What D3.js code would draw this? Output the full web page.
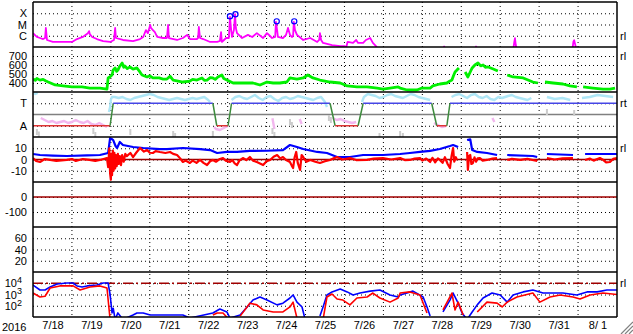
<!DOCTYPE html>
<html>
<head>
<meta charset="utf-8">
<script src="https://cdn.jsdelivr.net/npm/d3@7"></script>
<style>
  body { margin: 0; background: #fff; }
  svg text { font-family: "Liberation Sans", Arial, sans-serif; font-size: 11px; fill: #000; }
</style>
</head>
<body>
<div id="chart"></div>
<script>
// time is given in days since 2016-07-18 00:00 UT
const xray = [[0.00,1.7e-6],[0.10,7.8e-7],[0.18,6.3e-7],[0.26,5.1e-7],[0.31,6.3e-7],[0.33,4.9e-6],[0.36,4.2e-7],[0.51,2.8e-7],[0.77,2.8e-7],[1.00,2.8e-7],[1.13,5.1e-7],[1.28,7.8e-7],[1.41,1.7e-6],[1.44,2.6e-6],[1.46,1.4e-6],[1.52,7.8e-7],[1.64,5.1e-7],[1.80,3.4e-7],[1.98,2.8e-7],[2.08,4.2e-7],[2.11,4.9e-6],[2.13,6.3e-7],[2.31,4.2e-7],[2.57,3.4e-7],[2.75,5.1e-7],[2.83,7.8e-7],[2.90,3.2e-6],[2.95,1.7e-6],[3.01,9.1e-6],[3.03,4.9e-6],[3.08,3.2e-6],[3.13,2.1e-6],[3.19,7.8e-7],[3.34,6.3e-7],[3.44,6.3e-7],[3.47,9.1e-6],[3.49,6.3e-7],[3.70,4.2e-7],[3.85,6.3e-7],[3.96,1.2e-6],[4.03,5.1e-7],[4.21,5.1e-7],[4.24,6.3e-7],[4.26,6.0e-6],[4.29,6.3e-7],[4.37,5.1e-7],[4.55,2.8e-7],[4.73,2.8e-7],[4.80,3.4e-7],[4.83,2.1e-6],[4.85,2.8e-7],[4.96,6.3e-7],[5.03,6.3e-7],[5.06,4.7e-5],[5.09,3.2e-6],[5.11,7.8e-7],[5.16,3.2e-6],[5.19,8.5e-5],[5.21,4.9e-6],[5.24,1.7e-6],[5.37,6.3e-7],[5.52,1.2e-6],[5.63,7.8e-7],[5.75,1.7e-6],[5.91,6.3e-7],[6.01,1.7e-6],[6.09,9.5e-7],[6.14,6.3e-7],[6.22,7.8e-7],[6.24,1.7e-5],[6.27,3.2e-6],[6.29,7.8e-7],[6.42,6.3e-7],[6.50,1.2e-6],[6.55,4.9e-6],[6.60,1.2e-6],[6.65,7.8e-7],[6.68,9.5e-7],[6.70,1.7e-5],[6.73,3.2e-6],[6.78,1.2e-6],[6.94,4.2e-7],[7.12,6.3e-7],[7.30,2.8e-7],[7.35,4.2e-7],[7.37,1.7e-6],[7.40,4.2e-7],[7.45,2.3e-7],[7.68,1.5e-7],[7.89,1.2e-7],[8.01,1.2e-7],[8.04,8e-8],[8.08,2.8e-7],[8.22,2.3e-7],[8.30,4.2e-7],[8.35,2.3e-7],[8.48,2.3e-7],[8.55,4.2e-7],[8.66,6.3e-7],[8.73,2.3e-7],[8.81,1.2e-7],[8.84,8e-8],
  null,[10.54,8e-8],[10.56,1.1e-7],[10.58,8e-8],
  null,[11.36,8e-8],[11.38,1.1e-7],[11.40,8e-8],
  null,[12.34,8e-8],[12.36,2.5e-7],[12.38,6e-7],[12.40,1.5e-7],[12.42,8e-8],
  null,[13.86,8e-8],[13.88,3e-7],[13.90,4e-7],[13.92,2e-7],[13.95,8e-8]]
const flares = [[5.06,5.4e-5],[5.20,8.1e-5],[6.26,1.9e-5],[6.71,1.9e-5]]

const speed = [[0.00,444],[0.06,430],[0.10,450],[0.18,432],[0.26,440],[0.32,425],[0.39,411],[0.57,378],[0.77,367],[1.00,356],[1.26,356],[1.46,344],[1.72,344],[1.90,333],[1.93,456],[1.98,470],[2.03,489],[2.06,544],[2.11,567],[2.15,530],[2.18,544],[2.22,580],[2.29,622],[2.33,575],[2.36,589],[2.42,560],[2.49,578],[2.57,555],[2.67,567],[2.75,520],[2.80,489],[2.93,467],[3.00,480],[3.08,456],[3.24,456],[3.34,444],[3.44,444],[3.52,475],[3.60,433],[3.85,411],[4.03,422],[4.10,440],[4.21,433],[4.34,456],[4.40,430],[4.47,433],[4.55,460],[4.62,456],[4.68,440],[4.75,467],[4.85,489],[4.90,450],[4.98,433],[5.14,400],[5.39,400],[5.65,400],[5.83,378],[5.95,400],[6.01,411],[6.17,400],[6.34,400],[6.52,411],[6.60,456],[6.78,444],[6.94,456],[7.06,489],[7.19,456],[7.37,433],[7.63,411],[7.89,400],[8.07,367],[8.32,356],[8.58,356],[8.84,344],[8.99,333],[9.17,344],[9.38,356],[9.43,344],[9.61,322],[9.86,322],[9.99,344],[10.20,344],[10.27,367],[10.45,389],[10.63,400],[10.70,420],[10.76,433],[10.80,480],[10.84,522],[10.89,544],[10.94,567],
  null,[11.10,522],[11.17,467],[11.23,522],[11.28,567],[11.35,600],[11.43,622],[11.50,590],[11.56,600],[11.62,575],[11.69,578],[11.82,556],[11.94,533],
  null,[12.18,489],[12.33,467],[12.59,456],[12.84,411],[12.97,400],
  null,[13.15,411],[13.36,400],[13.61,389],[13.79,367],[13.97,356],
  null,[14.13,356],[14.38,344],[14.64,333],[14.82,333],[14.95,344]]

// IMF sector: 270 = toward, 90 = away
const sector = [[0,90],[1.98,90],[2.06,270],[4.62,270],[4.72,90],[5.01,90],[5.10,270],[7.63,270],[7.76,90],[8.35,90],[8.48,270],[10.24,270],[10.37,90],[10.63,90],[10.71,270],[15,270]]
const phiToward = [[0.02,350],[0.06,344],[0.12,352],null,[1.95,200],[1.98,240],[2.00,300],[2.03,320],[2.10,320],[2.20,312],[2.30,320],[2.40,304],[2.50,296],[2.60,312],[2.70,320],[2.80,328],[2.90,336],[3.00,344],[3.10,336],[3.20,320],[3.30,312],[3.40,304],[3.50,296],[3.60,304],[3.70,312],[3.80,304],[3.90,296],[4.00,304],[4.10,312],[4.20,304],[4.30,312],[4.40,320],[4.50,296],[4.55,280],
  null,[5.10,296],[5.20,320],[5.30,328],[5.40,312],[5.50,304],[5.60,320],[5.70,336],[5.80,312],[5.90,296],[6.00,320],[6.10,328],[6.20,304],[6.30,288],[6.40,312],[6.50,320],[6.60,304],[6.70,312],[6.80,328],[6.90,320],[7.00,312],[7.10,304],[7.20,296],[7.30,312],[7.40,320],[7.50,280],[7.55,240],
  null,[8.45,280],[8.50,320],[8.60,344],[8.70,336],[8.80,328],[8.90,312],[9.00,320],[9.10,336],[9.20,344],[9.30,328],[9.40,320],[9.50,312],[9.60,328],[9.70,344],[9.80,336],[9.90,320],[10.00,312],[10.10,304],[10.20,296],
  null,[10.75,320],[10.85,336],[10.95,344],[11.05,328],[11.15,312],[11.25,336],[11.35,344],[11.45,320],[11.55,312],[11.65,328],[11.75,304],[11.85,296],[11.95,320],[12.05,312],[12.20,328],[12.30,336],[12.40,320],[12.50,312],[12.60,304],[12.70,296],[12.80,312],
  null,[13.20,320],[13.40,304],[13.60,312],[13.80,296],
  null,[14.10,312],[14.30,320],[14.50,336],[14.70,328],[14.90,320]]
const phiAway = [[0.20,152],[0.30,136],[0.40,120],[0.50,128],[0.60,112],[0.70,120],[0.80,128],[0.90,112],[1.00,120],[1.10,136],[1.20,120],[1.30,112],[1.40,128],[1.50,104],[1.60,96],[1.70,112],[1.80,96],[1.90,80],
  null,[4.65,80],[4.70,64],[4.80,56],[4.90,72],[5.00,88],
  null,[6.15,150],[6.20,64],null,[6.85,144],[6.90,104],
  null,[7.70,152],[7.80,136],[7.90,144],[8.00,128],[8.10,120],[8.20,112],[8.30,120],
  null,[10.30,112],[10.40,96],[10.50,80],[10.60,88],null,[11.80,152],[11.85,120]]
const phiOther = [[0.10,40],[0.15,20],[1.55,48],[1.60,16],[2.50,40],[3.60,24],[3.65,8],[4.62,24],[6.15,48],[6.20,16],[6.60,120],[6.65,96],[7.60,152],[7.65,136],[8.90,8],[9.43,24],[9.50,8],[13.20,200],[13.90,192]]

const bt = [[0,4.9],[0.18,4.0],[0.51,3.5],[0.87,3.1],[1.39,3.7],[1.72,4.0],[1.93,5.8],[1.98,19],[2.03,18],[2.06,17.3],[2.12,12],[2.16,10.2],[2.23,15.6],[2.31,12.9],[2.57,11.1],[2.83,10.2],[3.26,9.3],[3.44,9.3],[3.85,10.2],[4.29,9.3],[4.55,8.4],[4.73,5.8],[4.98,6.7],[5.24,6.7],[5.57,7.6],[6.01,7.8],[6.42,8.4],[6.60,12.9],[6.78,11.1],[6.94,9.3],[7.30,6.7],[7.55,5.8],[7.81,2.2],[8.14,2.2],[8.48,4.0],[8.99,4.0],[9.43,4.9],[9.68,5.8],[9.94,6.7],[10.20,7.6],[10.45,9.3],[10.71,12.0],[10.79,12.9],[10.92,11.1],
  null,[11.15,17.3],[11.23,18],[11.28,8.4],[11.41,6.7],[11.66,5.8],[11.92,4.0],
  null,[12.18,4.0],[12.84,3.1],[12.95,2.2],
  null,[13.20,4.9],[13.87,4.0],
  null,[14.18,4.9],[15.0,4.9]]
const bz = [[0.00,1.3],[0.08,-1.3],[0.18,-2.2],[0.30,0.4],[0.44,-0.4],[0.60,-1.3],[0.87,-0.4],[1.00,0.4],[1.10,-1.3],[1.28,0.4],[1.45,-0.4],[1.60,-1.3],[1.72,-0.4],[1.90,1.3],[1.93,-6.7],[1.96,10],[1.98,-12],[2.00,-18],[2.01,5],[2.03,-14],[2.05,8],[2.07,-10],[2.09,6],[2.11,-8],[2.13,4],[2.15,-6],[2.18,5],[2.20,-4],[2.23,3],[2.26,-5],[2.29,4],[2.33,-2],[2.37,5],[2.41,3],[2.50,5.8],[2.57,2.2],[2.65,6],[2.75,10.2],[2.85,7],[2.93,8.4],[3.00,6],[3.08,5.8],[3.15,7.5],[3.26,6.7],[3.40,5.8],[3.52,6.7],[3.60,5],[3.70,4.0],[3.78,1],[3.85,-2.2],[3.92,-1],[4.03,-3.1],[4.10,-1],[4.20,-3],[4.29,-0.4],[4.38,-3],[4.47,-4.9],[4.55,-1.5],[4.62,-0.4],[4.70,-2],[4.80,0.5],[4.88,1.3],[4.95,-1],[5.06,-2.2],[5.12,-0.5],[5.18,-3.5],[5.24,-4.9],[5.30,-1],[5.39,1.3],[5.48,-0.5],[5.57,2.2],[5.65,-1],[5.75,-2.2],[5.83,-3.5],[5.91,-4.9],[6.00,-1.5],[6.09,-0.4],[6.18,2.5],[6.27,4.0],[6.35,1],[6.42,2.2],[6.50,-0.5],[6.60,-2.2],[6.64,-5],[6.68,-7.6],[6.72,2],[6.76,6.7],[6.80,-3],[6.86,-9.3],[6.90,4],[6.94,2.2],[7.02,-2],[7.12,-0.4],[7.25,-2],[7.37,-3.1],[7.50,-1.5],[7.63,-0.4],[7.72,1],[7.81,2.2],[7.95,0],[8.14,1.3],[8.30,-0.5],[8.58,-0.4],[8.75,0.8],[8.99,1.3],[9.20,0],[9.43,1.3],[9.55,-0.5],[9.68,-0.4],[9.80,0.8],[9.94,1.3],[10.00,-1],[10.10,0.8],[10.20,-2.2],[10.26,1.5],[10.33,-2.5],[10.40,1],[10.45,-0.4],[10.52,-3],[10.58,2],[10.65,-4],[10.71,-7.6],[10.75,3],[10.79,10.2],[10.82,-2],[10.86,2],[10.89,-0.4],
  null,[11.15,6.7],[11.17,-9.3],[11.20,3],[11.23,4.0],[11.26,-4],[11.30,-3.1],[11.34,2],[11.38,-2],[11.42,1],[11.48,1.3],[11.55,-1],[11.66,-0.4],[11.80,0.8],[11.92,1.3],
  null,[12.18,-0.4],[12.30,0.5],[12.51,-0.4],[12.70,0.5],[12.95,-1.3],
  null,[13.20,1.3],[13.40,0],[13.60,1],[13.87,1.3],
  null,[14.18,-0.4],[14.30,0.8],[14.40,-1],[14.56,1.3],[14.65,-0.5],[14.72,-2.5],[14.82,-2.2],[14.90,0.5],[15.0,1.3]]

const electronLow = [[0.00,6900],[0.18,2500],[0.31,2500],[0.44,4700],[0.62,8500],[0.87,10500],[1.03,10500],[1.13,5800],[1.26,4700],[1.39,5800],[1.64,6900],[1.80,10500],[1.93,10500],[1.98,1000],[2.03,23],[2.06,60],[2.11,6],[2.18,23],[2.31,6],[2.57,15],[2.67,23],[2.83,23],[3.01,15],[3.44,15],[3.85,15],[4.03,8],[4.62,23],[4.80,51],[4.98,28],[5.06,8],[5.32,15],[5.50,78],[5.65,320],[5.83,600],[6.01,320],[6.27,120],[6.42,170],[6.60,490],[6.68,910],[6.78,210],[6.91,78],[6.99,6],
  null,[7.37,12],[7.45,78],[7.55,910],[7.68,1700],[7.89,3100],[8.07,1700],[8.22,910],[8.40,1350],[8.66,2000],[8.91,2500],[9.17,910],[9.38,600],[9.43,910],[9.76,2000],[10.02,600],[10.12,78],[10.20,12],
  null,[10.53,28],[10.71,320],[10.79,1350],[10.92,170],[11.02,23],[11.15,6],[11.28,28],[11.41,120],[11.56,490],[11.79,1350],[12.00,910],[12.18,210],[12.33,910],[12.59,1700],[12.84,2500],[13.10,1350],[13.36,1350],[13.61,1350],[13.97,910],[14.23,1700],[14.49,1700],[14.74,2500],[15.0,2500]]
const electronHigh = [[0.00,1350],[0.18,600],[0.31,700],[0.44,3800],[0.69,5800],[1.03,5800],[1.21,2500],[1.46,4700],[1.72,5800],[1.90,3800],[1.98,6],
  null,[4.62,15],[4.73,23],[4.88,23],[5.00,8],
  null,[5.32,12],[5.57,170],[5.75,120],[5.91,42],[6.17,28],[6.42,28],[6.60,78],[6.68,210],[6.78,8],
  null,[7.45,6],[7.55,600],[7.68,1100],[7.81,400],[7.96,320],[8.14,120],[8.32,490],[8.58,600],[8.73,1350],[8.91,490],[9.17,210],[9.38,490],[9.43,1350],[9.68,1700],[9.94,910],[10.12,23],
  null,[10.53,42],[10.76,1350],[10.84,42],[10.92,210],[11.05,15],
  null,[11.41,28],[11.66,210],[11.92,170],[12.05,78],[12.18,210],[12.43,600],[12.84,1350],[13.02,210],[13.28,600],[13.54,910],[13.87,600],[14.05,400],[14.31,910],[14.64,1350],[15.0,1000]]

const W = 633, H = 334
const marginLeft = 33, marginRight = 16
const plotTop = 2, panelH = 45
const gridColor = '#000'

const t0 = Date.UTC(2016, 6, 18)
const day = t => new Date(t0 + t * 864e5)

const svg = d3.select('#chart').append('svg')
  .attr('width', W).attr('height', H)

const x = d3.scaleUtc()
  .domain([day(0), day(15)])
  .range([marginLeft, W - marginRight])
const width = W - marginLeft - marginRight

const panelTop = i => plotTop + i * panelH
const panels = [
  { y: d3.scaleLog().domain([1e-7, 1e-3]), ticks: [1e-4, 1e-5, 1e-6], fmt: d => ({1e-4: 'X', 1e-5: 'M', 1e-6: 'C'})[d], tag: 'rl' },
  { y: d3.scaleLinear().domain([300, 800]), ticks: [400, 500, 600, 700], fmt: d => d, tag: 'rl' },
  { y: d3.scaleLinear().domain([0, 360]), ticks: [90, 270], fmt: d => d === 270 ? 'T' : 'A', tag: 'rt' },
  { y: d3.scaleLinear().domain([-20, 20]), ticks: [-10, 0, 10], fmt: d => d === -10 ? '-10' : d, tag: 'rl' },
  { y: d3.scaleLinear().domain([-200, 100]), ticks: [-100, 0], fmt: d => d === -100 ? '-100' : d },
  { y: d3.scaleLinear().domain([0, 80]), ticks: [20, 40, 60], fmt: d => d },
  { y: d3.scaleLog().domain([10, 1e5]), ticks: [1e2, 1e3, 1e4], fmt: d => '10', tag: 'rl' },
]
panels.forEach((p, i) => p.y.range([panelTop(i + 1), panelTop(i)]))

// clip paths, one per panel
const defs = svg.append('defs')
panels.forEach((p, i) => {
  defs.append('clipPath').attr('id', 'clip' + i)
    .append('rect').attr('x', marginLeft).attr('y', panelTop(i)).attr('width', width).attr('height', panelH)
})

// vertical day grid
svg.append('g')
  .selectAll('line')
  .data(d3.utcDay.range(day(1), day(15)))
  .join('line')
  .attr('x1', d => x(d)).attr('x2', d => x(d))
  .attr('y1', panelTop(0)).attr('y2', panelTop(7))
  .attr('stroke', gridColor).attr('stroke-dasharray', '1,3')

// left labels + horizontal dotted grid
panels.forEach((p, i) => {
  const ax = svg.append('g')
    .attr('transform', `translate(${marginLeft},0)`)
    .call(d3.axisLeft(p.y).tickValues(p.ticks).tickFormat(p.fmt).tickSize(-width).tickPadding(6))
  ax.select('.domain').remove()
  ax.selectAll('.tick line').attr('stroke', gridColor).attr('stroke-dasharray', '1,3')
  ax.selectAll('.tick text').attr('font-size', 11).attr('font-family', '"Liberation Sans", Arial, sans-serif')
  if (i === 6) {
    ax.selectAll('.tick text').each(function (d) {
      d3.select(this).attr('x', -11).append('tspan')
        .attr('dy', '-0.45em').attr('font-size', 9).text(Math.round(Math.log10(d)))
    })
  }
  if (p.tag) {
    svg.append('text').attr('x', 620).attr('y', p.y(p.ticks[p.ticks.length - 1]) + 4)
      .attr('font-size', 10).text(p.tag)
  }
})

const series = (i, data, y, color, w) => {
  svg.append('path')
    .datum(data)
    .attr('clip-path', `url(#clip${i})`)
    .attr('fill', 'none').attr('stroke', color).attr('stroke-width', w)
    .attr('stroke-linejoin', 'round')
    .attr('d', d3.line().defined(d => d != null).x(d => x(day(d[0]))).y(d => y(d[1])))
}

// panel 0: x-ray
series(0, xray, panels[0].y, '#ff00ff', 1.8)
svg.append('g').selectAll('circle').data(flares).join('circle')
  .attr('cx', d => x(day(d[0]))).attr('cy', d => panels[0].y(d[1])).attr('r', 2.6)
  .attr('fill', 'none').attr('stroke', '#0000ff').attr('stroke-width', 1.2)

// panel 1: speed
series(1, speed, panels[1].y, '#00f000', 2.8)

// panel 2: sector
const yS = panels[2].y
svg.append('line').attr('x1', marginLeft).attr('x2', W - marginRight)
  .attr('y1', yS(180)).attr('y2', yS(180)).attr('stroke', '#808080').attr('stroke-width', 1.5)
series(2, phiToward, yS, '#aee6f6', 2.4)
series(2, phiAway, yS, '#f2b6ee', 2.4)
svg.append('g').attr('clip-path', 'url(#clip2)').selectAll('rect').data(phiOther).join('rect')
  .attr('x', d => x(day(d[0])) - 1).attr('y', d => yS(d[1]) - 3).attr('width', 2).attr('height', 6)
  .attr('fill', '#cccccc')
svg.append('g').selectAll('line').data(d3.pairs(sector)).join('line')
  .attr('x1', d => x(day(d[0][0]))).attr('x2', d => x(day(d[1][0])))
  .attr('y1', d => yS(d[0][1])).attr('y2', d => yS(d[1][1]))
  .attr('stroke', d => d[0][1] !== d[1][1] ? '#3c8a3c' : (d[0][1] === 270 ? '#4646e6' : '#e03434'))
  .attr('stroke-width', 1.5)

// panel 3: IMF
const yB = panels[3].y
svg.append('line').attr('x1', marginLeft).attr('x2', W - marginRight)
  .attr('y1', yB(0)).attr('y2', yB(0)).attr('stroke', '#a00000').attr('stroke-width', 1.5)
series(3, bt, yB, '#0000ff', 2.2)
series(3, bz, yB, '#ff0000', 2.2)

// panel 4: zero line
svg.append('line').attr('x1', marginLeft).attr('x2', W - marginRight)
  .attr('y1', panels[4].y(0)).attr('y2', panels[4].y(0)).attr('stroke', '#a00000').attr('stroke-width', 1.5)

// panel 6: electrons
const yE = panels[6].y
svg.append('line').attr('x1', marginLeft).attr('x2', W - marginRight)
  .attr('y1', yE(1e4)).attr('y2', yE(1e4)).attr('stroke', '#a00000').attr('stroke-width', 1.5)
  .attr('stroke-dasharray', '10,3,2,3')
series(6, electronLow, yE, '#0000ff', 1.6)
series(6, electronHigh, yE, '#ff0000', 1.6)

// panel frames
svg.append('g').selectAll('line').data(d3.range(8)).join('line')
  .attr('x1', marginLeft).attr('x2', W - marginRight)
  .attr('y1', d => panelTop(d)).attr('y2', d => panelTop(d))
  .attr('stroke', '#000').attr('stroke-width', 1.5)
;[marginLeft, W - marginRight].forEach(xx => {
  svg.append('line').attr('x1', xx).attr('x2', xx).attr('y1', panelTop(0)).attr('y2', panelTop(7))
    .attr('stroke', '#000').attr('stroke-width', 1.5)
})

// bottom date labels
svg.append('g')
  .attr('transform', `translate(0,${panelTop(7)})`)
  .call(d3.axisBottom(x)
    .tickValues(d3.utcDay.range(day(0), day(15)).map(d => d3.utcHour.offset(d, 12)))
    .tickFormat(d3.utcFormat('%-m/%e')).tickSize(0).tickPadding(4))
  .call(g => g.select('.domain').remove())
  .call(g => g.selectAll('text').attr('font-size', 11).attr('font-family', '"Liberation Sans", Arial, sans-serif').style('white-space', 'pre'))
svg.append('text').attr('x', 2).attr('y', 331).text('2016')

// window resize grip
svg.append('g').selectAll('line').data([4, 8, 12]).join('line')
  .attr('x1', d => W - d).attr('y1', H).attr('x2', W).attr('y2', d => H - d)
  .attr('stroke', '#808080').attr('stroke-width', 1.2)
</script>
</body>
</html>
